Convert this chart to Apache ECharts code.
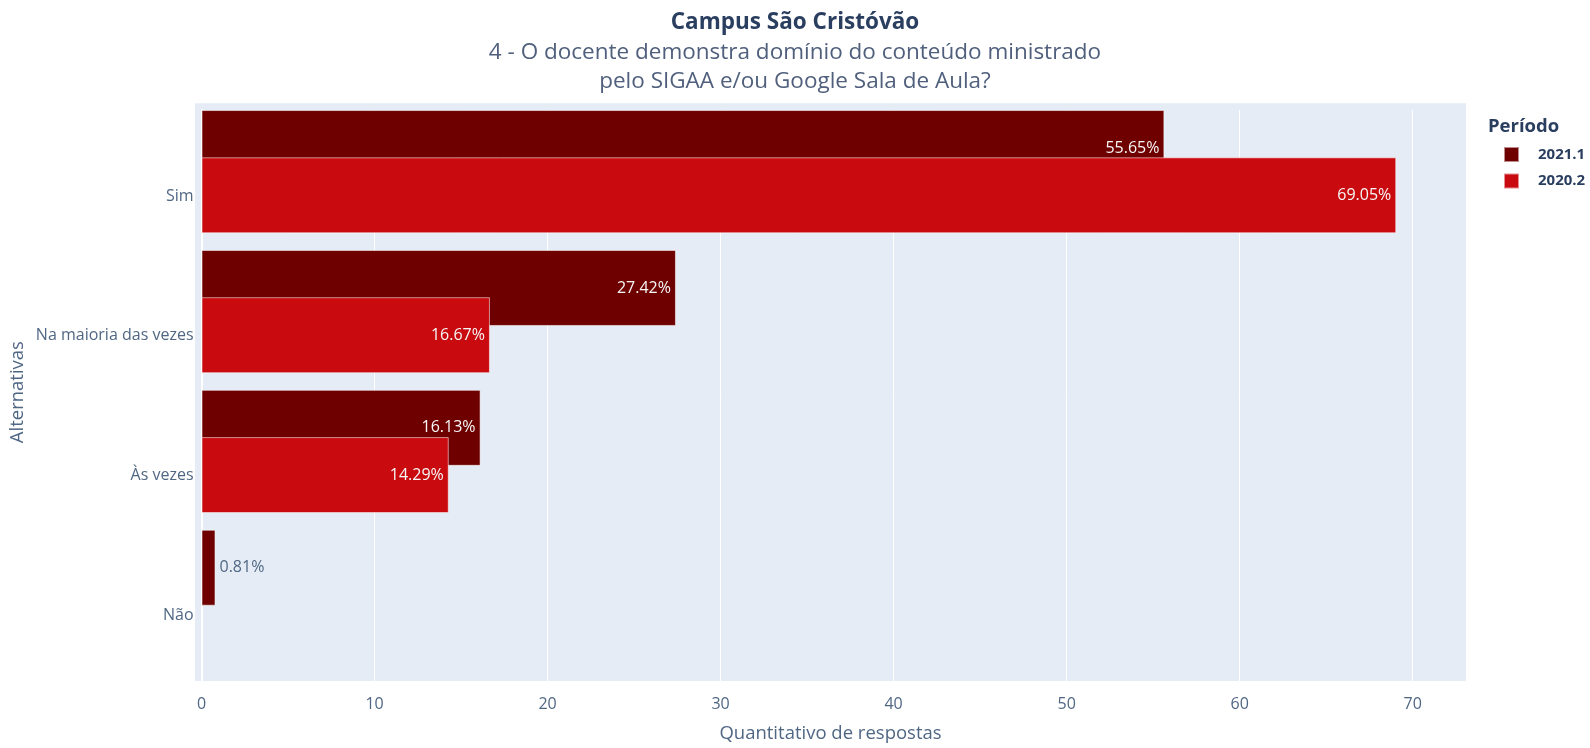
<!DOCTYPE html>
<html>
<head>
<meta charset="utf-8">
<script src="https://cdn.jsdelivr.net/npm/echarts@6/dist/echarts.min.js"></script>
<style>
html,body{margin:0;padding:0;background:#fff;}
#chart{width:1590px;height:748px;}
</style>
</head>
<body>
<div id="chart"></div>
<script>
const categories = ['Sim', 'Na maioria das vezes', 'Às vezes', 'Não'];
const periods = ['2021.1', '2020.2'];
const values2021 = [55.65, 27.42, 16.13, 0.81];
const values2020 = [69.05, 16.67, 14.29, null];
const colors = ['#6e0000', '#c90b10'];
const titleText = 'Campus São Cristóvão';
const subtitleText = '4 - O docente demonstra domínio do conteúdo ministrado\npelo SIGAA e/ou Google Sala de Aula?';

const FONT = '"Open Sans", "Noto Sans", sans-serif';
const TXT = '#506784';

function mkData(arr) {
  return arr.map(v => {
    if (v === null) return '-';
    if (v < 5) {
      return { value: v, label: { position: 'right', color: TXT, distance: 4 } };
    }
    return v;
  });
}

const chart = echarts.init(document.getElementById('chart'), null, { renderer: 'canvas' });
const W = 1590, H = 748;
const option = {
  backgroundColor: '#ffffff',
  textStyle: { fontFamily: FONT },
  title: [
    { text: titleText, left: 'center', top: 9, padding: [0, 0, 0, 18],
      textStyle: { fontFamily: FONT, fontSize: 22.5, fontWeight: 'bold', color: '#2a3f5f', lineHeight: 28 } },
    { text: subtitleText, left: 'center', top: 37.5, padding: [0, 0, 0, 14],
      textStyle: { fontFamily: FONT, fontSize: 22.5, fontWeight: 'normal', color: '#4f5f7c', lineHeight: 29.5 } },
    { text: 'Período', left: 1488, top: 115, padding: 0,
      textStyle: { fontFamily: FONT, fontSize: 18.5, fontWeight: 'bold', color: '#2a3f5f', lineHeight: 24 } }
  ],
  legend: {
    data: periods,
    orient: 'vertical',
    left: 1503, top: 146,
    padding: 0,
    itemWidth: 15, itemHeight: 15, itemGap: 9.5,
    icon: 'rect',
    textStyle: { fontFamily: FONT, fontSize: 15, fontWeight: 'bold', color: '#2a3f5f', padding: [0, 0, 0, 14] }
  },
  grid: [
    { left: 195, right: W - 1466, top: 103.3, bottom: H - 692.7, show: true, backgroundColor: '#e5ecf6', borderWidth: 0 },
    { left: 201.5, right: W - 1412.7, top: 110, bottom: H - 685.7, show: false },
    { left: 201.5, right: W - 1412.7, top: 101.75, bottom: H - 661.3, show: false }
  ],
  xAxis: [
    { gridIndex: 0, type: 'value', min: 0, max: 1, show: true,
      axisLine: { show: false }, axisTick: { show: false }, axisLabel: { show: false }, splitLine: { show: false },
      name: 'Quantitativo de respostas', nameLocation: 'middle', nameGap: 43,
      nameTextStyle: { fontFamily: FONT, fontSize: 18.5, color: TXT } },
    { gridIndex: 1, type: 'value', min: 0, max: 70, interval: 10,
      axisLine: { show: false }, axisTick: { show: false },
      axisLabel: { fontFamily: FONT, fontSize: 16, color: TXT, margin: 11 },
      splitLine: { show: true, lineStyle: { color: '#ffffff', width: 1 } } },
    { gridIndex: 2, type: 'value', min: 0, max: 70, show: false }
  ],
  yAxis: [
    { gridIndex: 0, type: 'value', min: 0, max: 1, show: true,
      axisLine: { show: false }, axisTick: { show: false }, axisLabel: { show: false }, splitLine: { show: false },
      name: 'Alternativas', nameLocation: 'middle', nameGap: 168,
      nameTextStyle: { fontFamily: FONT, fontSize: 18.5, color: TXT } },
    { gridIndex: 1, type: 'value', min: 0, max: 1,
      axisLine: { show: true, lineStyle: { color: '#ffffff', width: 2 } },
      axisTick: { show: false }, axisLabel: { show: false }, splitLine: { show: false } },
    { gridIndex: 2, type: 'category', data: categories, inverse: true,
      axisLine: { show: false }, axisTick: { show: false }, splitLine: { show: false },
      axisLabel: { fontFamily: FONT, fontSize: 16, color: TXT, margin: 8, verticalAlign: 'top', lineHeight: 48.5 } }
  ],
  series: [
    { name: periods[0], type: 'bar', xAxisIndex: 2, yAxisIndex: 2, data: mkData(values2021),
      barWidth: 76, barGap: '-37.8%',
      itemStyle: { color: colors[0], borderColor: 'rgba(255,255,255,0.55)', borderWidth: 1 },
      label: { show: true, position: 'insideRight', distance: 5, color: '#f6f6f6', fontFamily: FONT, fontSize: 16,
        formatter: p => p.value.toFixed(2) + '%' } },
    { name: periods[1], type: 'bar', xAxisIndex: 2, yAxisIndex: 2, data: mkData(values2020),
      barWidth: 76, barGap: '-37.8%',
      itemStyle: { color: colors[1], borderColor: 'rgba(255,255,255,0.55)', borderWidth: 1 },
      label: { show: true, position: 'insideRight', distance: 5, color: '#f6f6f6', fontFamily: FONT, fontSize: 16,
        formatter: p => p.value.toFixed(2) + '%' } }
  ]
};
chart.setOption(option);
</script>
</body>
</html>
